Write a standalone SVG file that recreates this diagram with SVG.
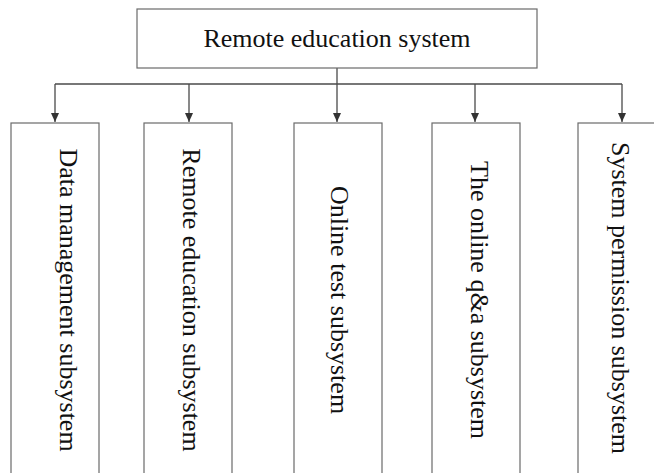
<svg xmlns="http://www.w3.org/2000/svg" width="654" height="473" viewBox="0 0 654 473">
<style>
.box{fill:#fff;stroke:#6a6a6a;stroke-width:1.2}
.lbl{font-family:"Liberation Serif","Times New Roman",serif;font-size:26px;fill:#111}
.con{stroke:#4a4a4a;stroke-width:1.3;fill:none}
</style>
<defs>
<marker id="arr" markerWidth="10" markerHeight="10" refX="9" refY="5" orient="auto" markerUnits="userSpaceOnUse">
<path d="M0,1 L9,5 L0,9 Z" fill="#333"/>
</marker>
</defs>
<rect width="654" height="473" fill="#fff"/>
<g id="connectors">
<line class="con" x1="337" y1="68" x2="337" y2="84" stroke-width="2"/>
<line class="con" x1="55" y1="84" x2="622" y2="84"/>
<line class="con" x1="55" y1="84" x2="55" y2="122" marker-end="url(#arr)"/>
<line class="con" x1="189" y1="84" x2="189" y2="122" marker-end="url(#arr)"/>
<line class="con" x1="337" y1="84" x2="337" y2="122" marker-end="url(#arr)"/>
<line class="con" x1="475" y1="84" x2="475" y2="122" marker-end="url(#arr)"/>
<line class="con" x1="622" y1="84" x2="622" y2="122" marker-end="url(#arr)"/>
</g>
<g id="root">
<rect class="box" x="137" y="9" width="400" height="59"/>
<text class="lbl" x="337" y="47" text-anchor="middle">Remote education system</text>
</g>
<g id="data">
<rect class="box" x="11" y="123" width="88" height="360"/>
<text class="lbl" text-anchor="middle" transform="translate(60,300) rotate(90)">Data management subsystem</text>
</g>
<g id="remote">
<rect class="box" x="144" y="123" width="88" height="360"/>
<text class="lbl" text-anchor="middle" transform="translate(183,300) rotate(90)">Remote education subsystem</text>
</g>
<g id="test">
<rect class="box" x="294" y="123" width="88" height="360"/>
<text class="lbl" text-anchor="middle" transform="translate(331,300) rotate(90)">Online test subsystem</text>
</g>
<g id="qa">
<rect class="box" x="432" y="123" width="88" height="360"/>
<text class="lbl" text-anchor="middle" transform="translate(471,300) rotate(90)">The online q&amp;a subsystem</text>
</g>
<g id="perm">
<rect class="box" x="578" y="123" width="88" height="360"/>
<text class="lbl" text-anchor="middle" transform="translate(612,298) rotate(90)">System permission subsystem</text>
</g>
</svg>
